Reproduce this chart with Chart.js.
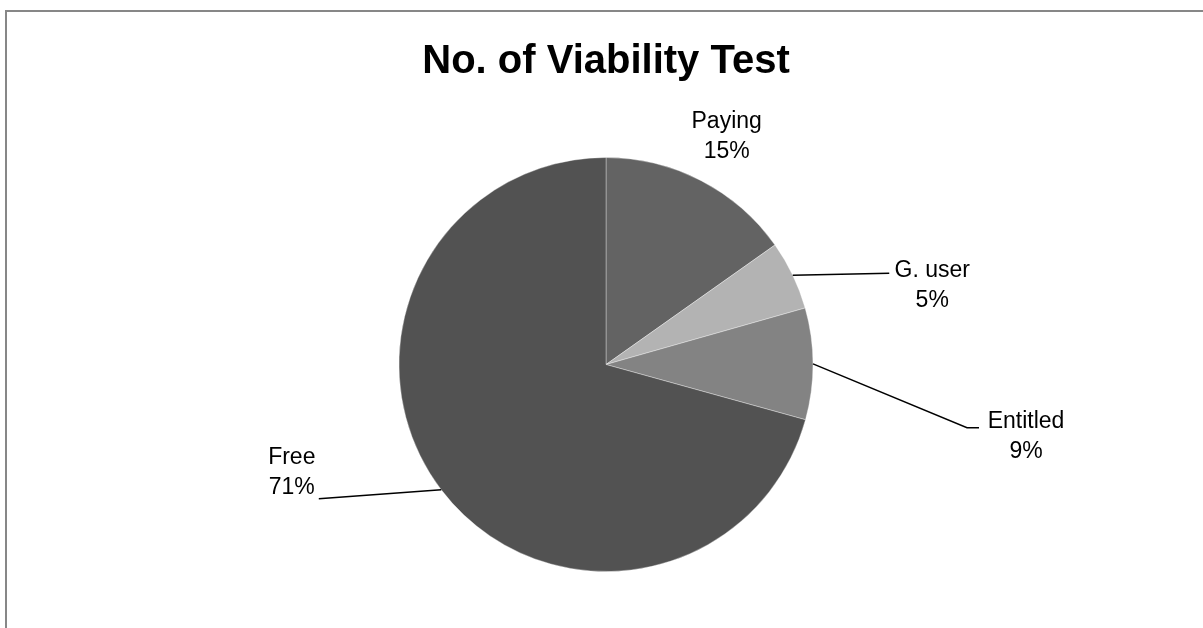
<!DOCTYPE html>
<html>
<head>
<meta charset="utf-8">
<script src="https://cdn.jsdelivr.net/npm/chart.js@4/dist/chart.umd.min.js"></script>
<style>
  html, body { margin: 0; padding: 0; background: #fff; }
  #wrap { width: 1203px; height: 628px; position: relative; }
</style>
</head>
<body>
<div id="wrap"><canvas id="viability-chart"></canvas></div>
<script>
const categories = ['Paying', 'G. user', 'Entitled', 'Free'];
const testShares = [15.2, 5.4, 8.7, 70.7];
const sliceColors = ['#636363', '#b3b3b3', '#838383', '#525252'];

// label block position (in radii from the pie centre) and leader line points (px from label centre)
const labelLayout = [
    { at: [0.583, -1.101], leader: null },
    { at: [1.576, -0.383], leader: [[-43, -12]] },
    { at: [2.029, 0.349], leader: [[-59, -9], [-47, -9]] },
    { at: [-1.518, 0.523], leader: [[27, 26]] }
];

const frame = {
    id: 'frame',
    beforeDraw(chart) {
        const ctx = chart.ctx;
        ctx.save();
        ctx.strokeStyle = '#878787';
        ctx.lineWidth = 2;
        ctx.strokeRect(6, 11, 1400, 900);
        ctx.restore();
    }
};

const pieLabels = {
    id: 'pieLabels',
    afterDatasetsDraw(chart) {
        const ctx = chart.ctx;
        const arcs = chart.getDatasetMeta(0).data;
        const values = chart.data.datasets[0].data;
        const total = values.reduce((a, b) => a + b, 0);

        ctx.save();
        arcs.forEach((arc, i) => {
            const r = arc.outerRadius;
            const cfg = labelLayout[i];
            const lx = arc.x + cfg.at[0] * r;
            const ly = arc.y + cfg.at[1] * r;

            if (cfg.leader) {
                const mid = (arc.startAngle + arc.endAngle) / 2;
                ctx.beginPath();
                ctx.moveTo(arc.x + Math.cos(mid) * r, arc.y + Math.sin(mid) * r);
                cfg.leader.forEach(p => ctx.lineTo(lx + p[0], ly + p[1]));
                ctx.strokeStyle = '#000';
                ctx.lineWidth = 1.5;
                ctx.stroke();
            }

            ctx.fillStyle = '#000';
            ctx.font = '23px "Liberation Sans", Arial, sans-serif';
            ctx.textAlign = 'center';
            ctx.textBaseline = 'middle';
            ctx.fillText(chart.data.labels[i], lx, ly - 15);
            ctx.fillText(Math.round(values[i] / total * 100) + '%', lx, ly + 15);
        });
        ctx.restore();
    }
};

new Chart(document.getElementById('viability-chart'), {
    type: 'pie',
    data: {
        labels: categories,
        datasets: [{
            data: testShares,
            backgroundColor: sliceColors,
            borderColor: 'rgba(255,255,255,0.35)',
            borderWidth: 1
        }]
    },
    options: {
        responsive: true,
        maintainAspectRatio: false,
        animation: false,
        layout: {
            padding: { top: 0, bottom: 56, left: 9, right: 0 }
        },
        plugins: {
            legend: { display: false },
            tooltip: { enabled: false },
            title: {
                display: true,
                text: 'No. of Viability Test',
                color: '#000',
                font: { family: '"Liberation Sans", Arial, sans-serif', size: 40, weight: 'bold', lineHeight: 1.2 },
                padding: { top: 38, bottom: 71 }
            }
        }
    },
    plugins: [frame, pieLabels]
});
</script>
</body>
</html>
